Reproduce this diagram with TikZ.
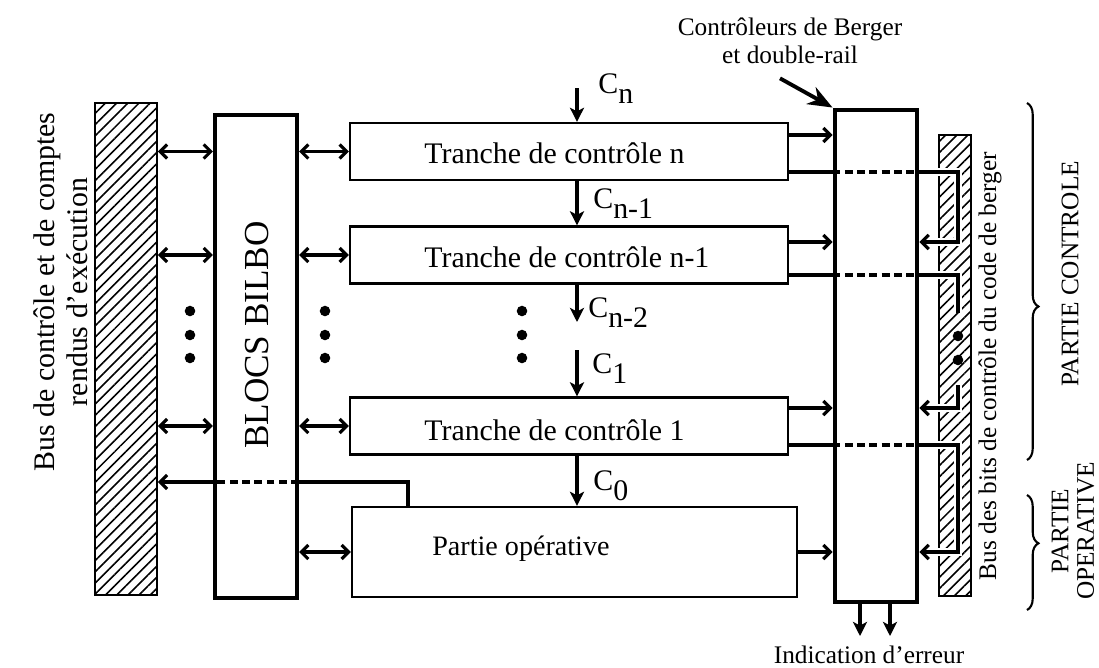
\documentclass[tikz,border=0pt]{standalone}
\usepackage{fontspec}
\setmainfont{Liberation Serif}
\usetikzlibrary{arrows.meta, positioning, calc, patterns.meta, decorations.pathreplacing}

\begin{document}
\begin{tikzpicture}[
  x=0.02cm, y=-0.02cm,
  blk/.style 2 args={rectangle, draw, inner sep=0pt,
              minimum width=#1*0.02cm, minimum height=#2*0.02cm},
  tbox/.style={blk={438}{57}, line width=1.3pt},
  bus/.style={line width=1.4pt, pattern={Lines[angle=45, distance=4.5pt, line width=0.9pt]}},
  big/.style={inner sep=0pt, font=\fontsize{17}{19}\selectfont},
  small/.style={inner sep=0pt, font=\fontsize{14.4}{16}\selectfont},
  clab/.style={big, anchor=base west},
  arr/.style={line width=1.8pt, -{Straight Barb[length=4pt, width=8pt]}},
  biarr/.style={line width=1.8pt, {Straight Barb[length=4pt, width=8pt]}-{Straight Barb[length=4pt, width=8pt]}},
  carr/.style={line width=1.8pt, -{Stealth[length=8pt, width=8pt, inset=2pt]}},
  dsh/.style={line width=2.2pt, dash pattern=on 4.5pt off 2.5pt},
  wire/.style={line width=1.8pt, preaction={draw=white, line width=4.5pt}},
  dot/.style={circle, fill, inner sep=0pt, minimum size=6pt},
  brc/.style={line width=1.2pt, decorate, decoration={brace, amplitude=6.5pt, aspect=#1}}
]
\useasboundingbox (0,0) rectangle (1099,667);

% buses and blocks
\node[blk={62}{492}, bus] (lbus) at (126,349) {};
\node[blk={82}{483}, line width=2.3pt] (bilbo) at (256,356.5) {};
\node[tbox] (tn) at (569,151.5) {};
\node[tbox] (tn1) at (569,255) {};
\node[tbox] (t1) at (569,426) {};
\node[blk={445}{90}, line width=1.3pt] (po) at (574.5,552) {};
\node[blk={82}{492}, line width=2.8pt] (ctrl) at (876,356) {};
\node[blk={32}{461}, bus] (rbus) at (955,365.5) {};

% texts
\node[big, rotate=90, align=center] (lbustxt) at (61,292) {Bus de contrôle et de comptes\\rendus d'exécution};
\node[inner sep=0pt, font=\fontsize{20}{24}\selectfont, rotate=90] (bilbotxt) at (257,335) {BLOCS BILBO};
\node[big, anchor=base west] (tntxt) at (424,163) {Tranche de contrôle n};
\node[big, anchor=base west] (tn1txt) at (424,267) {Tranche de contrôle n-1};
\node[big, anchor=base west] (t1txt) at (424,440) {Tranche de contrôle 1};
\node[inner sep=0pt, font=\fontsize{16}{18}\selectfont, anchor=west] (potxt) at (432,549) {Partie opérative};
\node[small, align=center] (berger) at (790,41) {Contrôleurs de Berger\\et double-rail};
\node[small, anchor=base] (err) at (869,663) {Indication d'erreur};
\node[small, rotate=90] (bustxt) at (990,366) {Bus des bits de contrôle du code de berger};
\node[small, rotate=90] (pctxt) at (1070,274) {PARTIE CONTROLE};
\node[inner sep=0pt, font=\fontsize{14.4}{14.6}\selectfont, rotate=90, align=center] (potxt2) at (1073,531) {PARTIE\\OPERATIVE};

% left side links
\foreach \t in {tn, tn1, t1} {
  \draw[biarr] (lbus.east |- \t) -- (bilbo.west |- \t);
  \draw[biarr] (bilbo.east |- \t) -- (\t.west);
}
\draw[biarr] (bilbo.east |- po) -- (po.west);

% dots
\foreach \x in {190, 325, 522}
  \foreach \y in {311, 335, 358}
    \node[dot] (d\x-\y) at (\x,\y) {};

% return path to the left bus
\coordinate (fb) at (408,482);
\draw[line width=1.8pt] (po.north -| fb) -- (fb) -- (bilbo.east |- fb);
\draw[dsh] (bilbo.east |- fb) -- (bilbo.west |- fb);
\draw[arr] (bilbo.west |- fb) -- (lbus.east |- fb);

% carry signals
\coordinate (ctop) at (577,88);
\coordinate (cn2end) at (577,322);
\coordinate (c1top) at (577,350);
\draw[carr] (ctop) -- (tn.north -| ctop);
\draw[carr] (tn.south -| ctop) -- (tn1.north -| ctop);
\draw[carr] (tn1.south -| ctop) -- (cn2end);
\draw[carr] (c1top) -- (t1.north -| ctop);
\draw[carr] (t1.south -| ctop) -- (po.north -| ctop);
\node[clab] (cn) at (598,93) {C\raisebox{-5.7pt}{n}};
\node[clab] (cn1) at (593,208) {C\raisebox{-5.7pt}{n-1}};
\node[clab] (cn2) at (588,317) {C\raisebox{-5.7pt}{n-2}};
\node[clab] (c1) at (592,373) {C\raisebox{-5.7pt}{1}};
\node[clab] (c0) at (593,490) {C\raisebox{-5.7pt}{0}};

% towards the checkers
\coordinate (bw) at (958,0);
\foreach \t/\yi/\yo in {tn/135/172, tn1/242/275, t1/408/445} {
  \draw[arr] (\t.east |- 0,\yi) -- (ctrl.west |- 0,\yi);
  \draw[line width=1.8pt] (\t.east |- 0,\yo) -- (ctrl.west |- 0,\yo);
  \draw[dsh] (ctrl.west |- 0,\yo) -- (ctrl.east |- 0,\yo);
  \draw[line width=1.8pt] (ctrl.east |- 0,\yo) -- (rbus.west |- 0,\yo);
}
\draw[arr] (po.east |- 0,552) -- (ctrl.west |- 0,552);

% check bits back from the bus
\draw[wire] (rbus.west |- 0,172) -- (bw |- 0,172) -- (bw |- 0,242) -- (rbus.west |- 0,242);
\draw[wire] (rbus.west |- 0,275) -- (bw |- 0,275) -- (bw |- 0,313);
\draw[wire] (bw |- 0,385) -- (bw |- 0,408) -- (rbus.west |- 0,408);
\draw[wire] (rbus.west |- 0,445) -- (bw |- 0,445) -- (bw |- 0,552) -- (rbus.west |- 0,552);
\node[dot] (bd1) at (bw |- 0,336) {};
\node[dot] (bd2) at (bw |- 0,360) {};
\foreach \y in {242, 408, 552}
  \draw[arr] (rbus.west |- 0,\y) -- (ctrl.east |- 0,\y);

% pointer and error outputs
\draw[line width=2.2pt, -{Stealth[length=14pt, width=11pt]}] ($(berger.south)+(-10,14)$) -- (ctrl.north west);
\coordinate (e1) at (860,636);
\coordinate (e2) at (890,636);
\draw[carr] (ctrl.south -| e1) -- (e1);
\draw[carr] (ctrl.south -| e2) -- (e2);

% braces
\draw[brc=0.57] (1027,103) -- (1027,460);
\draw[brc=0.42] (1027,495) -- (1027,610);
\end{tikzpicture}
\end{document}
